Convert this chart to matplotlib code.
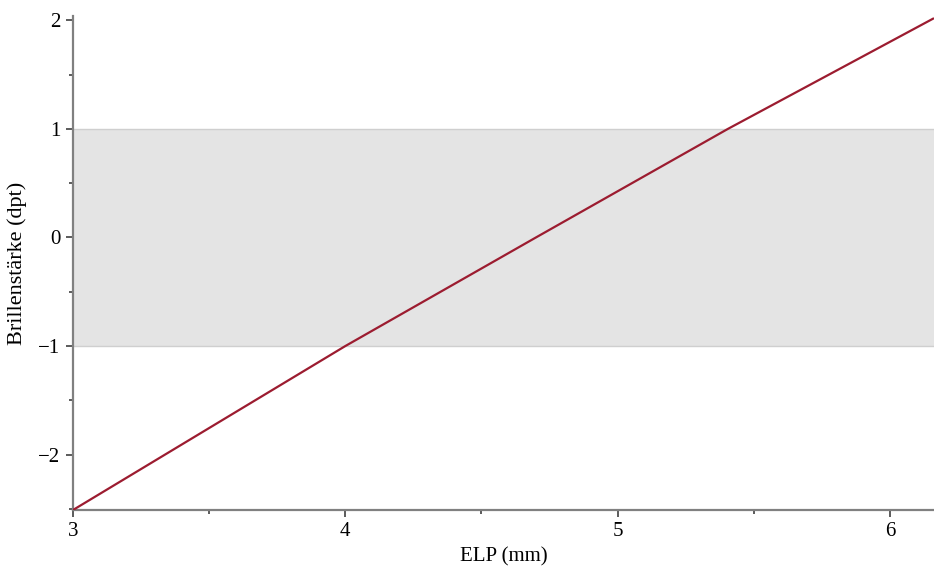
import numpy as np
import matplotlib.pyplot as plt
from matplotlib.ticker import MultipleLocator

# ELP (mm) against required spectacle power (dpt)
elp = [3.0, 4.0, 4.70, 5.405, 6.162]
power = [-2.51, -1.0, 0.0, 1.0, 2.02]

# tolerance band
band_low = -1.0
band_high = 1.0

x_min, x_max = 3.0, 6.162
y_min, y_max = -2.51, 2.04

plt.rcParams["font.family"] = ["Liberation Serif", "DejaVu Serif"]

fig = plt.figure(figsize=(9.34, 5.72), dpi=100)
ax = fig.add_axes([73 / 934, 1 - 510 / 572, 1 - 73 / 934, (510 - 16) / 572])

ax.axhspan(band_low, band_high, color="#e4e4e4", lw=0, zorder=0)
for yb in (band_low, band_high):
    ax.axhline(yb, color="#cfcfcf", lw=1.0, zorder=1)

ax.plot(elp, power, color="#9c1c30", lw=1.6, zorder=3, solid_capstyle="butt")

ax.set_xlim(x_min, x_max)
ax.set_ylim(y_min, y_max)

for side in ("top", "right"):
    ax.spines[side].set_visible(False)
for side in ("left", "bottom"):
    ax.spines[side].set_color("#808080")
    ax.spines[side].set_linewidth(1.6)

ax.xaxis.set_major_locator(MultipleLocator(1))
ax.xaxis.set_minor_locator(MultipleLocator(0.5))
ax.yaxis.set_major_locator(MultipleLocator(1))
ax.yaxis.set_minor_locator(MultipleLocator(0.5))
ax.tick_params(which="major", length=5, width=1.2, color="#404040",
               labelsize=15, pad=4)
ax.tick_params(which="minor", length=3, width=1.2, color="#404040")

ax.set_xlabel("ELP (mm)", fontsize=15, labelpad=4)
ax.set_ylabel("Brillenstärke (dpt)", fontsize=16, labelpad=8)

fig.savefig("out.png", dpi=100)
